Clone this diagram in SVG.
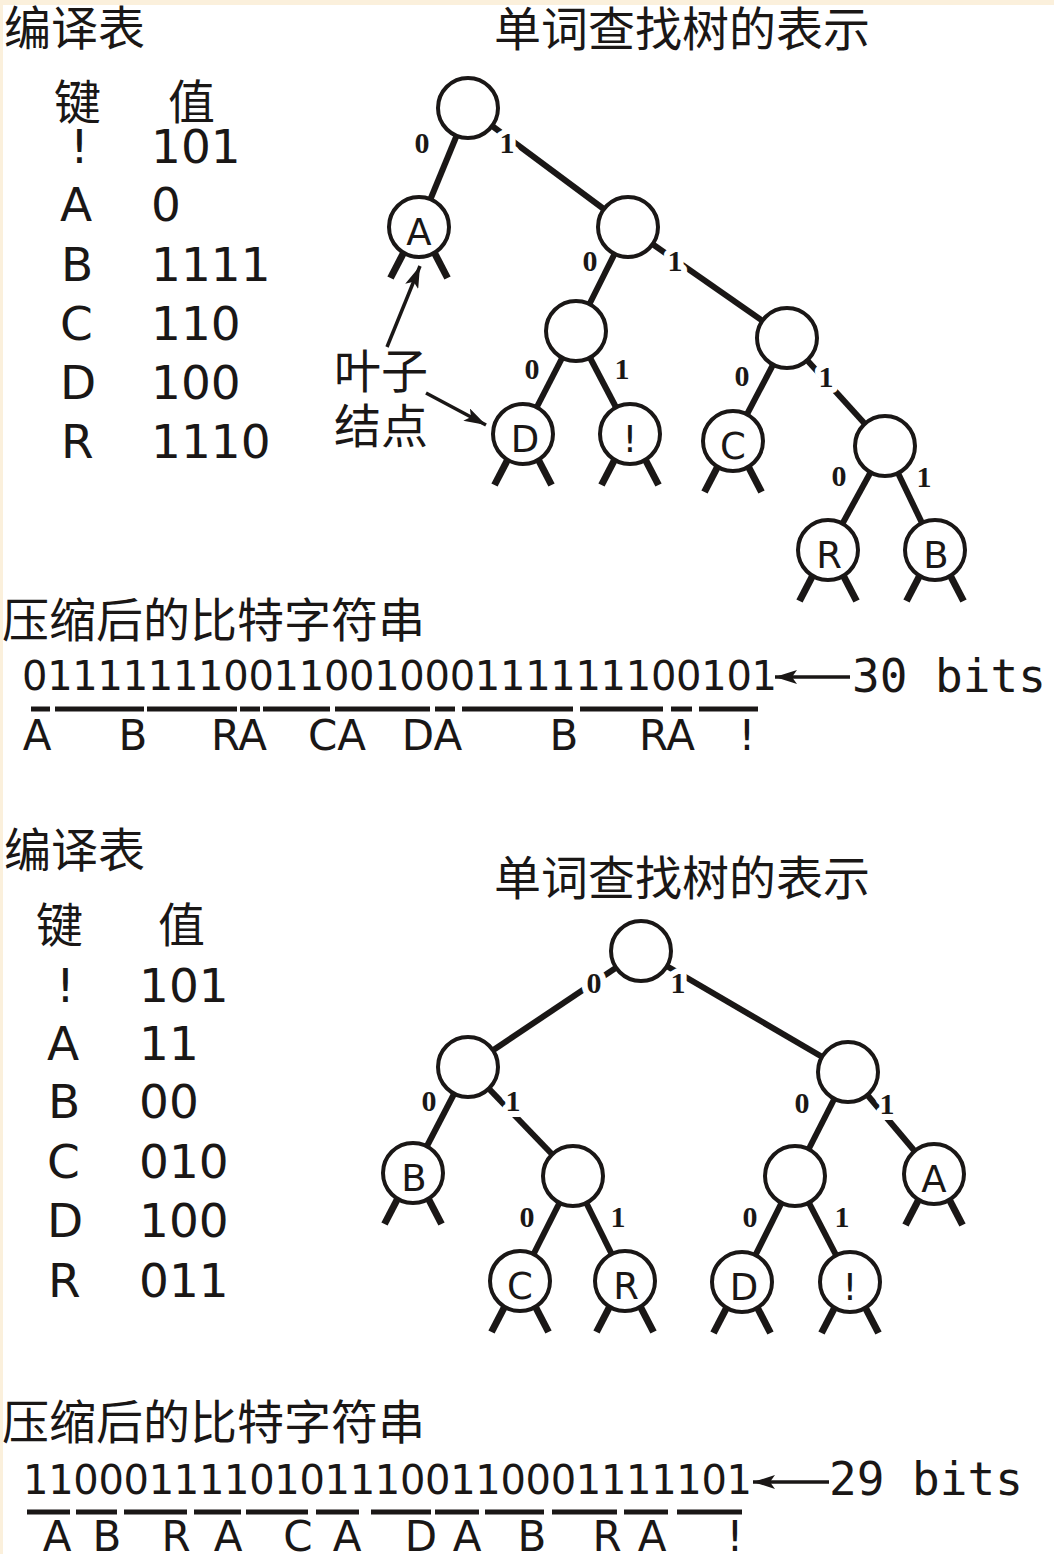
<svg xmlns="http://www.w3.org/2000/svg" width="1054" height="1554" viewBox="0 0 1054 1554">
<defs>
<style>
.cjk{font-family:"Noto Sans CJK SC","Noto Sans CJK JP",sans-serif;font-size:47px;fill:#1a1716}
.tbl{font-family:"DejaVu Sans",sans-serif;font-size:47px;fill:#1a1716}
.bits{font-family:"DejaVu Sans",sans-serif;font-size:40px;fill:#1a1716}
.sym{font-family:"DejaVu Sans",sans-serif;font-size:42px;fill:#1a1716;text-anchor:middle}
.mono{font-family:"DejaVu Sans Mono",monospace;font-size:46px;fill:#1a1716}
.leaf{font-family:"DejaVu Sans",sans-serif;font-size:37px;fill:#1a1716;text-anchor:middle}
.lbl{font-family:"Liberation Serif",serif;font-weight:bold;font-size:30px;fill:#1a1716;text-anchor:middle;stroke:#fff;stroke-width:12px;paint-order:stroke;stroke-linejoin:round}
.edge line{stroke:#1a1716;stroke-width:6}
.stub{stroke:#1a1716;stroke-width:7}
.node circle{fill:#fff;stroke:#1a1716;stroke-width:4}
.ul{stroke:#1a1716;stroke-width:5}
.arr{stroke:#1a1716;stroke-width:3.5;fill:none}
</style>
<marker id="ah" markerUnits="userSpaceOnUse" markerWidth="24" markerHeight="14" refX="22" refY="7" orient="auto">
<path d="M0,0 L22,7 L0,14 L5,7 Z" fill="#1a1716"/>
</marker>
<g id="stubs"><line class="stub" x1="-15" y1="25" x2="-28.5" y2="51"/><line class="stub" x1="15" y1="25" x2="28.5" y2="51"/></g>
</defs>
<rect x="0" y="0" width="1054" height="1554" fill="#fbf0dc"/>
<rect x="3" y="5" width="1051" height="1549" fill="#fff"/>

<!-- ===== Top section ===== -->
<text class="cjk" x="4" y="45">编译表</text>
<text class="cjk" x="494" y="46">单词查找树的表示</text>
<g id="table1">
<text class="cjk" x="54" y="119">键</text>
<text class="cjk" x="168" y="119">值</text>
<text class="tbl" x="70" y="163">!</text><text class="tbl" x="151" y="163">101</text>
<text class="tbl" x="60" y="221">A</text><text class="tbl" x="151" y="221">0</text>
<text class="tbl" x="61" y="281">B</text><text class="tbl" x="151" y="281">1111</text>
<text class="tbl" x="60" y="340">C</text><text class="tbl" x="151" y="340">110</text>
<text class="tbl" x="60" y="399">D</text><text class="tbl" x="151" y="399">100</text>
<text class="tbl" x="61" y="458">R</text><text class="tbl" x="151" y="458">1110</text>
</g>

<g id="connectors-top" class="edge">
<line x1="468" y1="108" x2="419" y2="227"/>
<line x1="468" y1="108" x2="628" y2="227"/>
<line x1="628" y1="227" x2="576" y2="331"/>
<line x1="628" y1="227" x2="787" y2="338"/>
<line x1="576" y1="331" x2="523" y2="434"/>
<line x1="576" y1="331" x2="630" y2="434"/>
<line x1="787" y1="338" x2="733" y2="441"/>
<line x1="787" y1="338" x2="885" y2="446"/>
<line x1="885" y1="446" x2="828" y2="550"/>
<line x1="885" y1="446" x2="935" y2="550"/>
</g>

<g id="t-root" class="node"><circle cx="468" cy="108" r="30"/></g>
<g id="t-n1" class="node"><circle cx="628" cy="227" r="30"/></g>
<g id="t-n2" class="node"><circle cx="576" cy="331" r="30"/></g>
<g id="t-n3" class="node"><circle cx="787" cy="338" r="30"/></g>
<g id="t-n4" class="node"><circle cx="885" cy="446" r="30"/></g>
<g id="t-A" class="node"><use href="#stubs" x="419" y="227"/><circle cx="419" cy="227" r="30"/><text class="leaf" x="419" y="245">A</text></g>
<g id="t-D" class="node"><use href="#stubs" x="523" y="434"/><circle cx="523" cy="434" r="30"/><text class="leaf" x="525" y="452">D</text></g>
<g id="t-EX" class="node"><use href="#stubs" x="630" y="434"/><circle cx="630" cy="434" r="30"/><text class="leaf" x="630" y="452">!</text></g>
<g id="t-C" class="node"><use href="#stubs" x="733" y="441"/><circle cx="733" cy="441" r="30"/><text class="leaf" x="733" y="459">C</text></g>
<g id="t-R" class="node"><use href="#stubs" x="828" y="550"/><circle cx="828" cy="550" r="30"/><text class="leaf" x="829" y="568">R</text></g>
<g id="t-B" class="node"><use href="#stubs" x="935" y="550"/><circle cx="935" cy="550" r="30"/><text class="leaf" x="936" y="568">B</text></g>

<g id="labels-top">
<text class="lbl" x="422" y="153">0</text><text class="lbl" x="507" y="153">1</text>
<text class="lbl" x="590" y="271">0</text><text class="lbl" x="675" y="271">1</text>
<text class="lbl" x="532" y="379">0</text><text class="lbl" x="622" y="379">1</text>
<text class="lbl" x="742" y="386">0</text><text class="lbl" x="826" y="387">1</text>
<text class="lbl" x="839" y="486">0</text><text class="lbl" x="924" y="487">1</text>
</g>

<g id="leaf-note">
<text class="cjk" x="334" y="388">叶子</text>
<text class="cjk" x="334" y="443">结点</text>
<line class="arr" x1="387" y1="347" x2="420" y2="266" marker-end="url(#ah)"/>
<line class="arr" x1="426" y1="393" x2="486" y2="425" marker-end="url(#ah)"/>
</g>

<text class="cjk" x="2" y="637">压缩后的比特字符串</text>
<g id="bits1">
<text class="bits" x="22" y="690" textLength="755" lengthAdjust="spacing">011111110011001000111111100101</text>
<line class="arr" x1="850" y1="677" x2="775" y2="677" marker-end="url(#ah)"/>
<text class="mono" x="852" y="692">30 bits</text>
<g class="ul">
<line x1="31" y1="709" x2="50" y2="709"/>
<line x1="55" y1="709" x2="144" y2="709"/>
<line x1="147" y1="709" x2="237" y2="709"/>
<line x1="240" y1="709" x2="260" y2="709"/>
<line x1="263" y1="709" x2="330" y2="709"/>
<line x1="335" y1="709" x2="430" y2="709"/>
<line x1="435" y1="709" x2="455" y2="709"/>
<line x1="462" y1="709" x2="573" y2="709"/>
<line x1="580" y1="709" x2="663" y2="709"/>
<line x1="671" y1="709" x2="692" y2="709"/>
<line x1="699" y1="709" x2="758" y2="709"/>
</g>
<text class="sym" x="37" y="750">A</text>
<text class="sym" x="133" y="750">B</text>
<text class="sym" x="239" y="750">RA</text>
<text class="sym" x="337" y="750">CA</text>
<text class="sym" x="432" y="750">DA</text>
<text class="sym" x="564" y="750">B</text>
<text class="sym" x="667" y="750">RA</text>
<text class="sym" x="747" y="750">!</text>
</g>

<!-- ===== Bottom section ===== -->
<text class="cjk" x="4" y="867">编译表</text>
<text class="cjk" x="494" y="895">单词查找树的表示</text>
<g id="table2">
<text class="cjk" x="36" y="942">键</text>
<text class="cjk" x="158" y="942">值</text>
<text class="tbl" x="56" y="1002">!</text><text class="tbl" x="139" y="1002">101</text>
<text class="tbl" x="47" y="1060">A</text><text class="tbl" x="139" y="1060">11</text>
<text class="tbl" x="48" y="1118">B</text><text class="tbl" x="139" y="1118">00</text>
<text class="tbl" x="47" y="1178">C</text><text class="tbl" x="139" y="1178">010</text>
<text class="tbl" x="47" y="1237">D</text><text class="tbl" x="139" y="1237">100</text>
<text class="tbl" x="48" y="1297">R</text><text class="tbl" x="139" y="1297">011</text>
</g>

<g id="connectors-bottom" class="edge">
<line x1="641" y1="951" x2="468" y2="1067"/>
<line x1="641" y1="951" x2="848" y2="1072"/>
<line x1="468" y1="1067" x2="413" y2="1173"/>
<line x1="468" y1="1067" x2="573" y2="1176"/>
<line x1="573" y1="1176" x2="520" y2="1281"/>
<line x1="573" y1="1176" x2="625" y2="1281"/>
<line x1="848" y1="1072" x2="795" y2="1176"/>
<line x1="848" y1="1072" x2="934" y2="1174"/>
<line x1="795" y1="1176" x2="742" y2="1282"/>
<line x1="795" y1="1176" x2="850" y2="1282"/>
</g>

<g id="b-root" class="node"><circle cx="641" cy="951" r="30"/></g>
<g id="b-l" class="node"><circle cx="468" cy="1067" r="30"/></g>
<g id="b-r" class="node"><circle cx="848" cy="1072" r="30"/></g>
<g id="b-m" class="node"><circle cx="573" cy="1176" r="30"/></g>
<g id="b-mr" class="node"><circle cx="795" cy="1176" r="30"/></g>
<g id="b-B" class="node"><use href="#stubs" x="413" y="1173"/><circle cx="413" cy="1173" r="30"/><text class="leaf" x="414" y="1191">B</text></g>
<g id="b-A" class="node"><use href="#stubs" x="934" y="1174"/><circle cx="934" cy="1174" r="30"/><text class="leaf" x="934" y="1192">A</text></g>
<g id="b-C" class="node"><use href="#stubs" x="520" y="1281"/><circle cx="520" cy="1281" r="30"/><text class="leaf" x="520" y="1299">C</text></g>
<g id="b-R" class="node"><use href="#stubs" x="625" y="1281"/><circle cx="625" cy="1281" r="30"/><text class="leaf" x="626" y="1299">R</text></g>
<g id="b-D" class="node"><use href="#stubs" x="742" y="1282"/><circle cx="742" cy="1282" r="30"/><text class="leaf" x="744" y="1300">D</text></g>
<g id="b-EX" class="node"><use href="#stubs" x="850" y="1282"/><circle cx="850" cy="1282" r="30"/><text class="leaf" x="850" y="1300">!</text></g>

<g id="labels-bottom">
<text class="lbl" x="594" y="993">0</text><text class="lbl" x="678" y="993">1</text>
<text class="lbl" x="429" y="1111">0</text><text class="lbl" x="513" y="1111">1</text>
<text class="lbl" x="802" y="1113">0</text><text class="lbl" x="887" y="1114">1</text>
<text class="lbl" x="527" y="1227">0</text><text class="lbl" x="618" y="1227">1</text>
<text class="lbl" x="750" y="1227">0</text><text class="lbl" x="842" y="1227">1</text>
</g>

<text class="cjk" x="2" y="1439">压缩后的比特字符串</text>
<g id="bits2">
<text class="bits" x="23" y="1494" textLength="729" lengthAdjust="spacing">11000111101011100110001111101</text>
<line class="arr" x1="829" y1="1482" x2="753" y2="1482" marker-end="url(#ah)"/>
<text class="mono" x="829" y="1495">29 bits</text>
<g class="ul">
<line x1="27" y1="1512" x2="70" y2="1512"/>
<line x1="76" y1="1512" x2="117" y2="1512"/>
<line x1="124" y1="1512" x2="187" y2="1512"/>
<line x1="194" y1="1512" x2="241" y2="1512"/>
<line x1="246" y1="1512" x2="308" y2="1512"/>
<line x1="316" y1="1512" x2="359" y2="1512"/>
<line x1="371" y1="1512" x2="431" y2="1512"/>
<line x1="435" y1="1512" x2="479" y2="1512"/>
<line x1="485" y1="1512" x2="544" y2="1512"/>
<line x1="552" y1="1512" x2="617" y2="1512"/>
<line x1="624" y1="1512" x2="668" y2="1512"/>
<line x1="677" y1="1512" x2="742" y2="1512"/>
</g>
<text class="sym" x="57" y="1551">A</text>
<text class="sym" x="107" y="1551">B</text>
<text class="sym" x="176" y="1551">R</text>
<text class="sym" x="228" y="1551">A</text>
<text class="sym" x="298" y="1551">C</text>
<text class="sym" x="347" y="1551">A</text>
<text class="sym" x="421" y="1551">D</text>
<text class="sym" x="467" y="1551">A</text>
<text class="sym" x="532" y="1551">B</text>
<text class="sym" x="607" y="1551">R</text>
<text class="sym" x="652" y="1551">A</text>
<text class="sym" x="735" y="1551">!</text>
</g>
</svg>
